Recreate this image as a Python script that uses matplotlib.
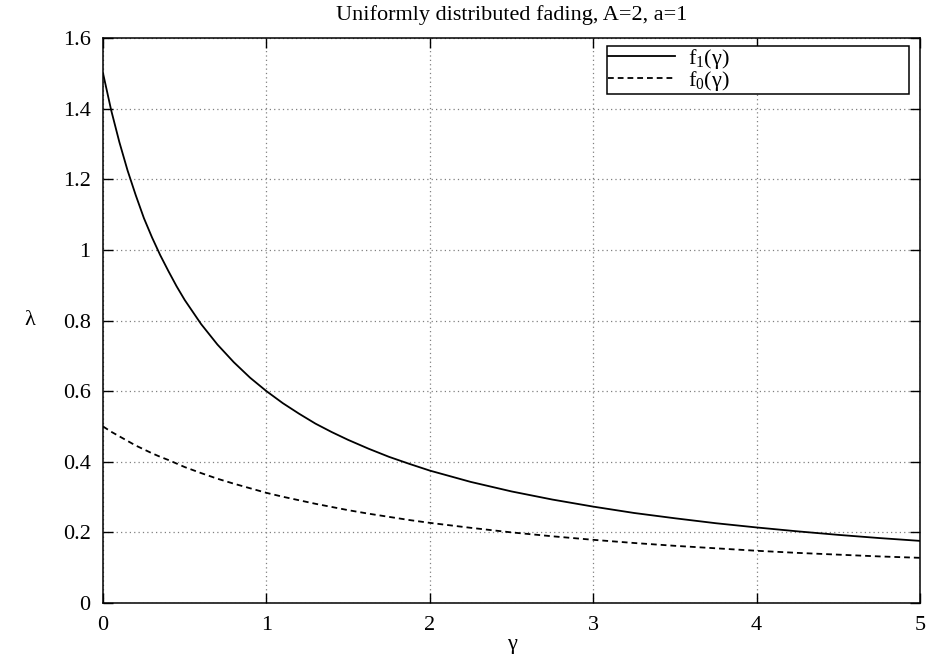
import numpy as np
import matplotlib
matplotlib.use("Agg")
import matplotlib.pyplot as plt

plt.rcParams['font.family'] = ['Liberation Serif', 'DejaVu Serif']
plt.rcParams['mathtext.fontset'] = 'custom'
plt.rcParams['mathtext.rm'] = 'Liberation Serif'
plt.rcParams['mathtext.default'] = 'regular'

# curve samples
gamma = [0.0, 0.05, 0.1, 0.15, 0.2, 0.25, 0.3, 0.35, 0.4, 0.45, 0.5, 0.6, 0.7, 0.8,
         0.9, 1.0, 1.1, 1.2, 1.3, 1.4, 1.5, 1.625, 1.75, 1.875, 2.0, 2.25, 2.5,
         2.75, 3.0, 3.25, 3.5, 3.75, 4.0, 4.25, 4.5, 4.75, 5.0]
f1 = [1.50, 1.395, 1.305, 1.225, 1.155, 1.09, 1.035, 0.985, 0.94, 0.897, 0.858,
      0.79, 0.732, 0.682, 0.638, 0.60, 0.566, 0.536, 0.508, 0.484, 0.462, 0.437,
      0.414, 0.394, 0.375, 0.343, 0.316, 0.293, 0.273, 0.255, 0.240, 0.226,
      0.214, 0.203, 0.193, 0.184, 0.176]
f0 = [0.50, 0.485, 0.472, 0.459, 0.446, 0.435, 0.424, 0.414, 0.405, 0.395, 0.385,
      0.368, 0.352, 0.338, 0.325, 0.312, 0.301, 0.291, 0.281, 0.272, 0.263, 0.253,
      0.244, 0.235, 0.227, 0.213, 0.200, 0.189, 0.179, 0.170, 0.162, 0.155,
      0.148, 0.142, 0.137, 0.132, 0.128]

xticks = [0, 1, 2, 3, 4, 5]
yticks = [0, 0.2, 0.4, 0.6, 0.8, 1, 1.2, 1.4, 1.6]
ylabels = ["0", "0.2", "0.4", "0.6", "0.8", "1", "1.2", "1.4", "1.6"]

fig = plt.figure(figsize=(9.3, 6.61), dpi=100)
ax = fig.add_axes([0.1108, 0.0877, 0.8785, 0.8548])

ax.plot(gamma, f1, "-", color="black", lw=1.3, label="f$_1$(γ)")
ax.plot(gamma, f0, "--", color="black", lw=1.3, dashes=(3.2, 2.2), label="f$_0$(γ)")

ax.set_xlim(0, 5)
ax.set_ylim(0, 1.6)
ax.set_xticks(xticks)
ax.set_yticks(yticks)
ax.set_yticklabels(ylabels)
ax.tick_params(direction="in", length=7, width=1, top=True, right=True,
               labelsize=16, pad=9)
ax.grid(True, color="#808080", linestyle=(0, (1, 2.5)), lw=0.9)
for s in ax.spines.values():
    s.set_linewidth(1.1)

ax.set_title("Uniformly distributed fading, A=2, a=1", fontsize=16, pad=13)
ax.set_xlabel("γ", fontsize=16, labelpad=0)
ax.set_ylabel("λ", fontsize=16, rotation=0, labelpad=24, va="center")

leg = ax.legend(loc="upper left", bbox_to_anchor=(0.617, 0.86, 0.369, 0.126),
                mode="expand", fontsize=16, frameon=True, fancybox=False,
                framealpha=1, edgecolor="black", handlelength=3.0,
                borderpad=0.05, labelspacing=-0.1, handletextpad=0.6,
                borderaxespad=0)
leg.get_frame().set_linewidth(1.1)

fig.savefig("out.png", dpi=100)
